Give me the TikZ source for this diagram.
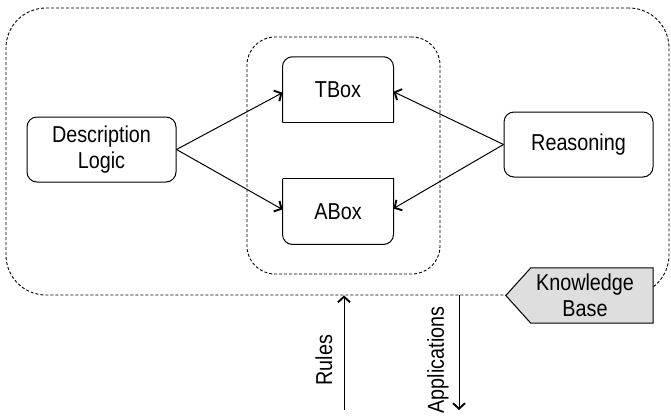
\documentclass[tikz,border=0pt]{standalone}
\usepackage{fontspec}
\setmainfont{Liberation Sans}[FakeStretch=0.86]
\usetikzlibrary{arrows.meta,calc}
\begin{document}
\begin{tikzpicture}[x=1pt,y=-1pt,
  every node/.style={font=\fontsize{23}{26}\selectfont, align=center, inner sep=0pt},
  grp/.style={draw, line width=0.9pt, dash pattern=on 3pt off 2pt},
  boxr/.style={draw, line width=1pt, rounded corners=10pt, minimum width=149pt, minimum height=65pt},
  halfbox/.style={minimum width=110.6pt, minimum height=65.5pt},
  edge/.style={line width=1pt, -{Straight Barb[length=5.5pt,width=12pt,line width=1.9pt]}},
  lbl/.style={rotate=90}
]
\useasboundingbox (0,0) rectangle (671,418);
% group boxes
\node[grp, rounded corners=40pt, minimum width=663pt, minimum height=287pt] (outer) at (337.5,151.5) {};
\node[grp, rounded corners=28pt, minimum width=193pt, minimum height=237pt] (inner) at (343.5,155.5) {};
% main boxes
\node[boxr] (dl) at (101.5,149.5) {Description\\Logic};
\node[boxr] (rs) at (578.5,144.5) {Reasoning};
\node[halfbox] (t) at (338,89.7) {TBox};
\node[halfbox] (a) at (338,211.5) {ABox};
\draw[line width=1pt, rounded corners=10pt] (t.south west) -- (t.north west) -- (t.north east) -- (t.south east);
\draw[line width=1pt] (t.south west) -- (t.south east);
\draw[line width=1pt, rounded corners=10pt] (a.north west) -- (a.south west) -- (a.south east) -- (a.north east);
\draw[line width=1pt] (a.north west) -- (a.north east);
% knowledge base tag
\node[minimum width=122pt, minimum height=55pt] (kb) at (592,295.5) {};
\filldraw[fill=black!13, line width=1pt] (kb.north west) -- (kb.north east) -- (kb.south east) -- (kb.south west) -- ($(kb.west)+(-25,0)$) -- cycle;
\node (kbt) at ($(kb.center)+(-7,0)$) {Knowledge\\Base};
% arrows
\draw[edge] (dl.east) -- ($(t.west)+(0,3)$);
\draw[edge] (dl.east) -- ($(a.west)+(0,-2)$);
\draw[edge] (rs.west) -- ($(t.east)+(0,2)$);
\draw[edge] (rs.west) -- ($(a.east)+(0,-3)$);
% rules / applications
\coordinate (r0) at (344,410);
\coordinate (p0) at (459,410);
\draw[edge] (r0) -- (r0 |- outer.south);
\draw[edge] (p0 |- outer.south) -- (p0);
\node[lbl] (rules) at (324,360) {Rules};
\node[lbl] (apps) at (438,360) {Applications};
\end{tikzpicture}
\end{document}
